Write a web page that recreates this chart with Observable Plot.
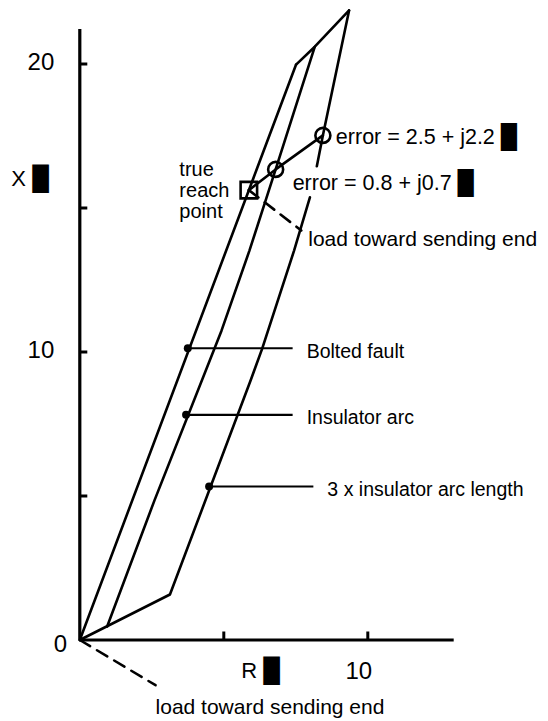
<!DOCTYPE html>
<html><head><meta charset="utf-8">
<script src="https://cdn.jsdelivr.net/npm/d3@7"></script>
<script src="https://cdn.jsdelivr.net/npm/@observablehq/plot@0.6"></script>
<style>
html,body{margin:0;padding:0;background:#fff;}
svg{display:block;}
</style>
</head><body><div id="chart"></div>
<script>
// ---- data (R, X in ohms) ----
const boltedLine = [[0, 0], [7.51, 19.98]];
const topEdge = [[7.51, 19.98], [8.16, 20.6], [9.35, 21.86]];
const insulatorLine = [[0.95, 0.47], [2.59, 4.84], [4.92, 10.74], [5.89, 13.52], [6.80, 16.34], [8.16, 20.6]];
const arcLengthLine = [[0, 0], [3.13, 1.58], [5.93, 9.01], [6.33, 10.11], [7.44, 13.52], [7.99, 15.37], [null, null], [8.23, 16.45], [8.44, 17.52], [9.35, 21.86]];
const trueReach = [[5.87, 15.62]];
const errorPoints = [[6.80, 16.34], [8.44, 17.52]];
const errorLabels = ["error = 0.8 + j0.7 █", "error = 2.5 + j2.2 █"];
const loadTop = [[5.87, 15.62], [7.69, 14.22]];
const loadBottom = [[0, 0], [2.63, -1.57]];
const loadLabel = "load toward sending end";
const faultNames = ["Bolted fault", "Insulator arc", "3 x insulator arc length"];
const faultR = [3.75, 3.69, 4.49];
const faultX = [10.13, 7.82, 5.33];
const leaderEndR = [7.39, 7.39, 8.11];
const xTicks = [5, 10];
const yTicks = [5, 10, 15, 20];
const xTickLabels = [10];
const yTickLabels = [10, 20];
const xAxisExtent = [0, 13];
const yAxisExtent = [0, 21.2];

// ---- layout ----
const unit = 28.8, ox = 79.3, oy = 639.5;
const xDom = [0, 13], yDom = [-2.8, 22];
const tickLen = 8 / unit;
const font = "Liberation Sans, Arial, Helvetica, sans-serif";

const faults = faultNames.map((name, i) => ({name, r: faultR[i], x: faultX[i], end: leaderEndR[i]}));
const errs = errorPoints.map((p, i) => ({r: p[0], x: p[1], label: errorLabels[i]}));
const k = "#000";

const chart = Plot.plot({
  width: 548,
  height: 721,
  style: {fontFamily: font, fontSize: "21px", background: "#fff", color: "#000"},
  x: {domain: xDom, range: [ox, ox + 13 * unit], axis: null},
  y: {domain: yDom, range: [oy + 2.8 * unit, oy - 22 * unit], axis: null},
  marks: [
    // axes
    Plot.ruleY([0], {x1: xAxisExtent[0], x2: xAxisExtent[1], strokeWidth: 3.2, stroke: k}),
    Plot.ruleX([0], {y1: yAxisExtent[0], y2: yAxisExtent[1], strokeWidth: 3.2, stroke: k}),
    Plot.ruleX(xTicks, {x: d => d, y1: 0, y2: tickLen, strokeWidth: 3, stroke: k}),
    Plot.ruleY(yTicks, {y: d => d, x1: 0, x2: tickLen, strokeWidth: 3, stroke: k}),
    Plot.text(yTickLabels, {x: 0, y: d => d, text: d => String(d), textAnchor: "end", dx: -25.5, dy: -2, fontSize: 24}),
    Plot.text(xTickLabels, {x: d => d, y: 0, text: d => String(d), textAnchor: "middle", dx: -9, dy: 31, fontSize: 24}),
    Plot.text(["0"], {x: 0, y: 0, text: d => d, textAnchor: "middle", dx: -19.3, dy: 4, fontSize: 24}),
    Plot.text(["X █"], {x: 0, y: 16.0, text: d => d, textAnchor: "end", dx: -31, fontSize: 22}),
    Plot.text(["R █"], {x: 5.61, y: -1.06, text: d => d, textAnchor: "start", fontSize: 22}),

    // characteristic lines
    Plot.line(boltedLine, {x: d => d[0], y: d => d[1], strokeWidth: 2.6, stroke: k}),
    Plot.line(topEdge, {x: d => d[0], y: d => d[1], strokeWidth: 2.6, stroke: k}),
    Plot.line(insulatorLine, {x: d => d[0], y: d => d[1], strokeWidth: 2.6, stroke: k}),
    Plot.line(arcLengthLine, {x: d => d[0], y: d => d[1], strokeWidth: 2.6, stroke: k}),

    // load direction dashed lines
    Plot.line(loadTop, {x: d => d[0], y: d => d[1], strokeWidth: 2.6, stroke: k, strokeDasharray: "12,8"}),
    Plot.line(loadBottom, {x: d => d[0], y: d => d[1], strokeWidth: 2.6, stroke: k, strokeDasharray: "12,8"}),
    Plot.text([loadTop[1]], {x: d => d[0], y: d => d[1], text: () => loadLabel, textAnchor: "start", dx: 7, dy: 9, fontSize: 21}),
    Plot.text([loadBottom[1]], {x: d => d[0], y: d => d[1], text: () => loadLabel, textAnchor: "start", dx: 0, dy: 22, fontSize: 21}),

    // fault leaders
    Plot.link(faults, {x1: "r", y1: "x", x2: "end", y2: "x", strokeWidth: 2.2, stroke: k}),
    Plot.dot(faults, {x: "r", y: "x", r: 4, fill: k}),
    Plot.text(faults, {x: "end", y: "x", text: "name", textAnchor: "start", dx: 14, dy: 3, fontSize: 19.5}),

    // reach error
    Plot.line([...trueReach, ...errorPoints], {x: d => d[0], y: d => d[1], strokeWidth: 2.6, stroke: k}),
    Plot.dot(trueReach, {x: d => d[0], y: d => d[1], symbol: "square", r: 9.3, stroke: k, strokeWidth: 2.6, fill: "none"}),
    Plot.dot(errs, {x: "r", y: "x", r: 7.5, stroke: k, strokeWidth: 2.6, fill: "none"}),
    Plot.text([errs[0]], {x: "r", y: "x", text: "label", textAnchor: "start", dx: 17, dy: 14, fontSize: 21.5}),
    Plot.text([errs[1]], {x: "r", y: "x", text: "label", textAnchor: "start", dx: 13, dy: 2, fontSize: 21.5}),
    Plot.text(trueReach, {x: d => d[0], y: d => d[1], text: () => "true\nreach\npoint", textAnchor: "start", dx: -69.5, lineHeight: 1.05, fontSize: 20})
  ]
});
// enlarge the box glyph slightly so it matches the original rendering
d3.select(chart).selectAll("text").each(function () {
  if (this.childElementCount === 0 && this.textContent.endsWith("█")) {
    const t = this.textContent;
    this.textContent = t.slice(0, -1);
    d3.select(this).append("tspan").attr("font-size", "1.07em").text("█");
  }
});
document.getElementById("chart").appendChild(chart);
</script>
</body></html>
